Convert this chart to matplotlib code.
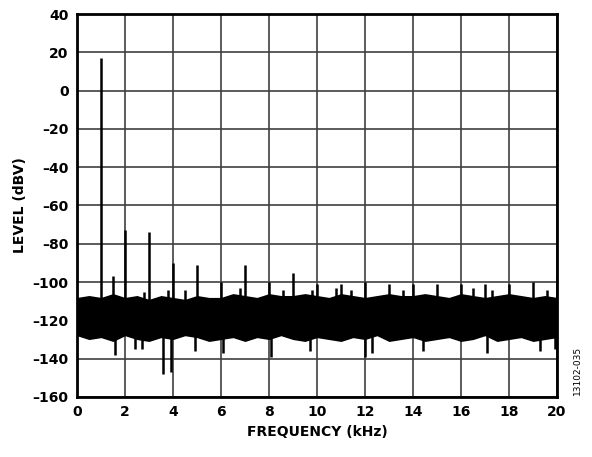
import matplotlib.pyplot as plt
import numpy as np

# noise-floor envelope read every 0.5 kHz
env_f = [0,0.5,1,1.5,2,2.5,3,3.5,4,4.5,5,5.5,6,6.5,7,7.5,8,8.5,9,9.5,10,10.5,11,11.5,12,12.5,13,13.5,14,14.5,15,15.5,16,16.5,17,17.5,18,18.5,19,19.5,20]
env_hi = [-108,-107,-108,-106,-108,-107,-109,-107,-108,-109,-107,-108,-108,-106,-107,-108,-106,-107,-107,-106,-107,-108,-106,-107,-108,-107,-106,-107,-107,-106,-107,-108,-106,-107,-108,-107,-106,-107,-108,-107,-108]
env_lo = [-128,-130,-129,-131,-128,-130,-131,-129,-130,-128,-129,-131,-130,-129,-131,-129,-130,-128,-130,-131,-129,-130,-131,-129,-130,-128,-131,-130,-129,-131,-130,-129,-131,-130,-128,-131,-130,-129,-131,-130,-129]
env_mid_hi = [-112,-111,-113,-111,-112,-112,-113,-111,-112,-113,-111,-112,-112,-111,-112,-113,-111,-112,-112,-111,-112,-113,-111,-112,-112,-111,-112,-112,-111,-112,-112,-113,-111,-112,-112,-111,-112,-113,-111,-112,-112]
env_mid_lo = [-125,-126,-125,-127,-125,-126,-127,-125,-126,-125,-126,-127,-126,-125,-127,-126,-126,-125,-126,-127,-125,-126,-127,-125,-126,-125,-127,-126,-125,-127,-126,-125,-127,-126,-125,-127,-126,-125,-127,-126,-125]
# spectral spikes (kHz, dBV)
spike_f = [1,2,3,4,5,6,7,8,9,10,11,12,13,14,15,16,17,18,19,20,1.5,2.8,3.8,4.5,6.8,8.6,9.8,10.8,11.4,13.6,16.5,17.3,19.6]
spike_v = [17,-73,-74,-90,-91,-100,-91,-100,-95,-101,-101,-100,-101,-101,-101,-101,-101,-101,-100,-97,-97,-105,-104,-104,-103,-104,-104,-103,-104,-104,-103,-104,-104]
dip_f = [1.6,2.4,2.7,3.6,3.9,4.9,6.1,8.1,9.7,12.0,12.3,14.4,17.1,19.3,19.9]
dip_v = [-138,-135,-135,-148,-147,-136,-137,-139,-136,-139,-137,-136,-137,-136,-135]

fig = plt.figure(figsize=(5.92,4.57), dpi=100)
ax = fig.add_axes([77/592, 1-397/457, 480/592, 383/457])
ax.fill_between(env_f, env_hi, env_lo, color='black', lw=0)
ax.vlines(spike_f, -118, spike_v, color='black', lw=1.8)
ax.vlines(dip_f, -120, dip_v, color='black', lw=1.8)
ax.set_xlim(0,20); ax.set_ylim(-160,40)
ax.set_xticks(range(0,21,2)); ax.set_yticks(range(-160,41,20))
ax.set_yticklabels([str(v).replace('-','\u2013') for v in range(-160,41,20)])
ax.grid(True, color='#404040', lw=1.2)
ax.set_axisbelow(True)
for s in ax.spines.values(): s.set_linewidth(2)
ax.tick_params(length=0, labelsize=10, pad=6)
for t in ax.get_xticklabels()+ax.get_yticklabels(): t.set_fontweight('bold')
ax.set_xlabel('FREQUENCY (kHz)', fontsize=10, fontweight='bold')
ax.set_ylabel('LEVEL (dBV)', fontsize=10, fontweight='bold')
fig.text(0.975, 1-370/457, '13102-035', rotation=90, fontsize=6.5, ha='center', va='center')
fig.savefig('out.png', dpi=100)
